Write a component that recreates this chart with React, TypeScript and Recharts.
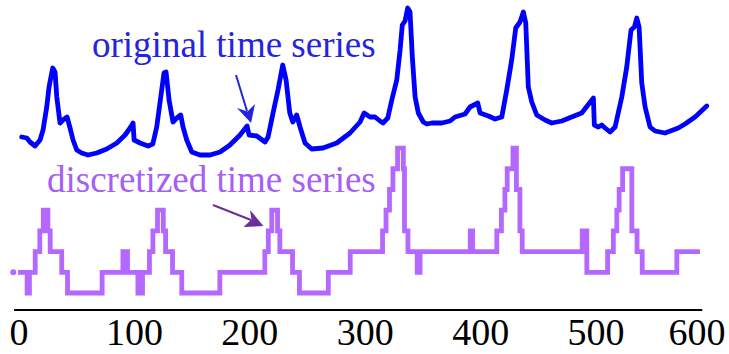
import { LineChart, Line, XAxis, YAxis, ReferenceLine, Customized } from 'recharts';

const CHART_W = 729;
const CHART_H = 354;

// original series (time index, value in arbitrary units)
const origT = [
  2.3, 6.7, 9.5, 13.9, 18.2, 20.8, 24, 26, 29.2, 31.2, 32.7, 35.5, 38.1, 41.6, 44.2, 46.8, 50, 54.3, 59.8, 67.3,
  76, 84.7, 91.9, 96.8, 98.8, 99.7, 104.9, 111.8, 115.9, 119.3, 122.8, 125.6, 127.4, 130, 133.4, 136.7, 140.1, 142.1, 145.3, 149.7,
  156.8, 165.5, 174.2, 182.8, 191.5, 197.6, 199.3, 206, 213.2, 215.8, 220.1, 224.4, 228.5, 231.4, 234.6, 237.2, 240.6, 243.5, 247.8, 253.6,
  263.4, 275.3, 286.8, 295.5, 299, 304.2, 308.5, 312.8, 315.4, 319.5, 323, 327.3, 330.2, 332.1, 334.5, 336.8, 338.8, 340.8, 343.2, 346,
  350.3, 353.3, 357.6, 366.3, 373.5, 377.8, 386.5, 390.8, 397.5, 399.5, 406.7, 412.5, 418.3, 422.6, 426.9, 430.4, 434.1, 437, 439.1, 441.3,
  444.3, 448.6, 455.8, 461.6, 470.3, 478.9, 487.6, 497.7, 498.5, 502, 504.9, 507.8, 512.1, 516.5, 522.3, 526.6, 530.3, 533.2, 535.3, 537.3,
  539.6, 542.5, 546.8, 551.1, 559.8, 571.3, 577.1, 585.8, 595.9,
];
const origV = [
  23, 22, 18, 14, 20, 30, 53, 73, 92, 88, 63, 37, 40, 43, 32, 20, 10, 7, 5, 7,
  11, 17, 25, 33, 37, 20, 17, 14, 16, 33, 63, 87, 88, 60, 38, 42, 45, 33, 20, 8,
  5, 5, 8, 15, 25, 34, 25, 24, 18, 23, 47, 70, 95, 80, 47, 38, 45, 33, 17, 11,
  12, 17, 27, 38, 47, 43, 43, 39, 37, 42, 60, 80, 110, 135, 139, 152, 148, 103, 63, 47,
  38, 36, 37, 37, 39, 43, 46, 53, 57, 47, 44, 41, 43, 70, 100, 132, 138, 148, 137, 73,
  58, 45, 40, 37, 39, 43, 47, 62, 35, 33, 35, 32, 28, 33, 63, 93, 130, 133, 142, 133,
  77, 53, 33, 29, 27, 32, 36, 43, 54,
];

// discretized series: start of each run and its symbol level
const discT = [
  -5, 7, 9, 14, 18, 21, 25, 27, 37, 42, 72, 90, 94, 103, 107, 113, 116, 120, 125, 127,
  133, 141, 174, 213, 216, 219, 224, 226, 237, 243, 268, 287, 315, 318, 321, 324, 328, 333, 334, 337,
  345, 347.5, 391, 393, 414, 418, 421, 423, 428, 431, 434, 436, 488, 492, 510, 515, 518, 520, 523, 531,
  535.5, 540, 570, 590,
];
const discL = [
  1, 0, 1, 2, 3, 4, 3, 2, 1, 0, 1, 2, 1, 0, 1, 2, 3, 4, 3, 2,
  1, 0, 1, 2, 3, 4, 3, 2, 1, 0, 1, 2, 3, 4, 5, 6, 7, 6, 3, 2,
  1, 2, 3, 2, 3, 4, 5, 6, 7, 5, 3, 2, 3, 1, 2, 3, 4, 5, 6, 3,
  2, 1, 2, 2,
];

const xTicks = [0, 100, 200, 300, 400, 500, 600];

const origData = origT.map((t, i) => ({ t, v: origV[i] }));
const discData = discT.map((t, i) => ({ t, level: discL[i] }));

const SERIF = { fontFamily: "'Liberation Serif', 'DejaVu Serif', serif" };
const BLUE = '#0000ff';
const BLUE_TEXT = '#2424e0';
const PURPLE = '#b468ff';
const PURPLE_TEXT = '#a65ef5';
const PURPLE_ARROW = '#6b2f9a';

function XTick(props: any) {
  const { x, y, payload } = props;
  // keep the last label inside the picture
  const cx = Math.min(x, CHART_W - 32);
  return (
    <text x={cx} y={y + 27} textAnchor="middle" style={SERIF} fontSize={38} fill="#000">
      {payload.value}
    </text>
  );
}

function Annotations() {
  return (
    <g>
      <text x={92} y={57} style={SERIF} fontSize={37} fill={BLUE_TEXT}>
        original time series
      </text>
      <line x1={236} y1={75} x2={247} y2={111} stroke={BLUE_TEXT} strokeWidth={2} />
      <path d="M251,123 L237,108 L247.5,111.5 L255,104 Z" fill={BLUE_TEXT} />

      <text x={47} y={192} style={SERIF} fontSize={37} fill={PURPLE_TEXT}>
        discretized time series
      </text>
      <line x1={213} y1={205} x2={251} y2={220} stroke={PURPLE_ARROW} strokeWidth={2} />
      <path d="M263.5,226 L250,210 L251.5,219.5 L243.5,227 Z" fill={PURPLE_ARROW} />
    </g>
  );
}

export default function App() {
  return (
    <div style={{ position: 'absolute', left: 0, top: 0, background: '#fff' }}>
      <LineChart width={CHART_W} height={CHART_H} margin={{ top: 0, right: 0, bottom: 0, left: 0 }}>
        <XAxis
          type="number"
          dataKey="t"
          domain={[-16.5, 615.2]}
          ticks={xTicks}
          interval={0}
          axisLine={false}
          tickLine={false}
          height={44}
          tick={<XTick />}
        />
        <YAxis yAxisId="orig" hide type="number" domain={[-150, 160]} />
        <YAxis yAxisId="disc" hide type="number" domain={[-0.82, 14.15]} />
        <ReferenceLine
          yAxisId="orig"
          segment={[{ x: -4.3, y: -150 }, { x: 592, y: -150 }]}
          stroke="#000"
          strokeWidth={2}
          ifOverflow="visible"
        />
        <Line
          yAxisId="orig"
          data={origData}
          dataKey="v"
          type="linear"
          stroke={BLUE}
          strokeWidth={4.8}
          strokeLinejoin="round"
          strokeLinecap="round"
          dot={false}
          isAnimationActive={false}
        />
        <Line
          yAxisId="disc"
          data={discData}
          dataKey="level"
          type="stepAfter"
          stroke={PURPLE}
          strokeWidth={4.8}
          dot={false}
          isAnimationActive={false}
        />
        <Customized component={<Annotations />} />
      </LineChart>
    </div>
  );
}
